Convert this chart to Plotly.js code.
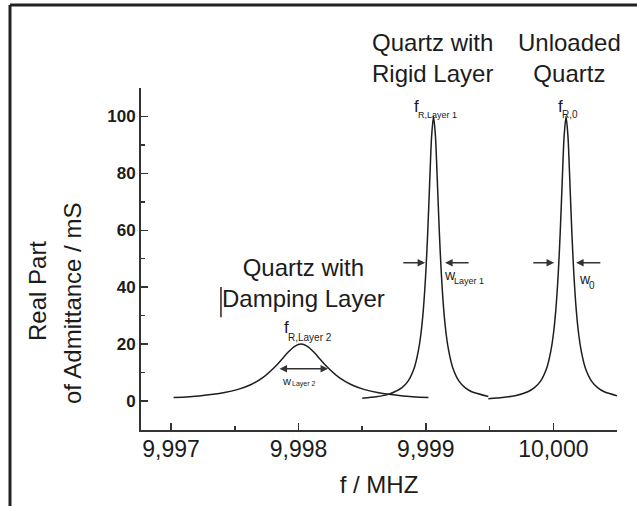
<!DOCTYPE html>
<html>
<head>
<meta charset="utf-8">
<script src="https://cdn.plot.ly/plotly-3.0.1.min.js"></script>
<style>
html,body{margin:0;padding:0;background:#fff;}
#chart{width:637px;height:506px;}
</style>
</head>
<body>
<div id="chart"></div>
<script>
// Quartz with damping layer (broad resonance)
const fDamping = [9.99702, 9.99722, 9.99742, 9.99752, 9.99762, 9.99772, 9.99782, 9.99787, 9.99792, 9.99797, 9.99802,
                  9.99807, 9.99812, 9.99817, 9.99822, 9.99832, 9.99842, 9.99852, 9.99862, 9.99882, 9.99902];
const gDamping = [1.18, 1.78, 2.96, 4.0, 5.62, 8.2, 12.2, 14.7, 17.2, 19.2, 20,
                  19.2, 17.2, 14.7, 12.2, 8.2, 5.62, 4.0, 2.96, 1.78, 1.18];

// Quartz with rigid layer
const fRigid = [9.99850, 9.99861, 9.99871, 9.99881, 9.99886, 9.99891, 9.99894, 9.99896, 9.99898, 9.99900, 9.999015, 9.99903, 9.999045, 9.99906,
                9.999075, 9.99909, 9.999105, 9.99912, 9.99914, 9.99916, 9.99918, 9.99921, 9.99926, 9.99931, 9.99936, 9.99949];
const gRigid = [0.96, 1.47, 2.41, 4.6, 7.0, 11.8, 17.4, 23.2, 32.1, 45.7, 59.9, 77.1, 93.1, 100,
                93.1, 77.1, 59.9, 45.7, 32.1, 23.2, 17.4, 11.8, 7.0, 4.6, 3.25, 1.61];

// Unloaded quartz
const fUnloaded = [9.99949, 9.99960, 9.99970, 9.99980, 9.99985, 9.99990, 9.99995, 9.99998, 10.00000, 10.00002, 10.00004, 10.000055, 10.00007, 10.000085, 10.0001,
                   10.000115, 10.00013, 10.000145, 10.00016, 10.00018, 10.0002, 10.00022, 10.00025, 10.0003, 10.00035, 10.0004, 10.0005];
const gUnloaded = [0.81, 1.2, 1.86, 3.25, 4.6, 7.0, 11.8, 17.4, 23.2, 32.1, 45.7, 59.9, 77.1, 93.1, 100,
                   93.1, 77.1, 59.9, 45.7, 32.1, 23.2, 17.4, 11.8, 7.0, 4.6, 3.25, 1.86];

const xTickVals = [9.997, 9.998, 9.999, 10.000];
const xTickText = ['9,997', '9,998', '9,999', '10,000'];
const yTickVals = [0, 20, 40, 60, 80, 100];

const FONT = '"Liberation Sans", Arial, sans-serif';
const TXT = '#1c1c1c';
const LINE = '#1e1e1e';

function curve(x, y, name) {
  return {x: x, y: y, name: name, type: 'scatter', mode: 'lines',
          line: {color: LINE, width: 1.5, shape: 'spline', smoothing: 0.7},
          hoverinfo: 'skip', showlegend: false};
}

const traces = [
  curve(fDamping, gDamping, 'Quartz with Damping Layer'),
  curve(fRigid, gRigid, 'Quartz with Rigid Layer'),
  curve(fUnloaded, gUnloaded, 'Unloaded Quartz')
];

function label(text, x, y, size) {
  return {text: text, x: x, y: y, xref: 'paper', yref: 'paper',
          showarrow: false, xanchor: 'center', yanchor: 'middle',
          font: {family: FONT, size: size, color: TXT}};
}
function dlabel(text, x, y, size, anchor) {
  return {text: text, x: x, y: y, xref: 'x', yref: 'y', showarrow: false,
          xanchor: anchor || 'center', yanchor: 'middle', borderpad: 0,
          font: {family: FONT, size: size, color: TXT}};
}
function arrow(x0, x1, y, both) {
  return {x: x1, y: y, ax: x0, ay: y, xref: 'x', yref: 'y', axref: 'x', ayref: 'y',
          text: '', showarrow: true, arrowhead: 2, arrowsize: 1, arrowwidth: 1.5,
          arrowcolor: '#333', arrowside: both ? 'end+start' : 'end', standoff: 0, startstandoff: 0};
}

const annotations = [
  label('Quartz with<br>Rigid Layer', 0.6134, 1.0877, 24),
  label('Unloaded<br>Quartz', 0.901, 1.0877, 24),
  label('Quartz with<br>Damping Layer', 0.3424, 0.4298, 24),
  Object.assign(label('Real Part', -0.2185, 0.4064, 24), {textangle: -90}),
  Object.assign(label('of Admittance / mS', -0.145, 0.3713, 24), {textangle: -90}),
  // resonance frequency labels: main letter + subscript
  dlabel('f', 9.998923, 103.4, 17),
  dlabel('R,Layer 1', 9.998930, 100.6, 9, 'left'),
  dlabel('f', 10.000053, 103.4, 17),
  dlabel('R,0', 10.000060, 100.6, 10, 'left'),
  dlabel('f', 9.997903, 26.0, 17),
  dlabel('R,Layer 2', 9.997910, 22.4, 10, 'left'),
  // bandwidth labels
  dlabel('w', 9.999190, 44.3, 14),
  dlabel('Layer 1', 9.999214, 42.0, 9, 'left'),
  dlabel('w', 10.000250, 42.9, 14),
  dlabel('0', 10.000274, 40.6, 10, 'left'),
  dlabel('w', 9.997905, 6.9, 11),
  dlabel('Layer 2', 9.997940, 6.0, 7, 'left'),
  arrow(9.998811, 9.998994, 48.6),
  arrow(9.999347, 9.999151, 48.6),
  arrow(9.999831, 10.000006, 48.6),
  arrow(10.000381, 10.000179, 48.6),
  arrow(9.997840, 9.998232, 11.3, true)
];

const layout = {
  width: 637, height: 506,
  margin: {l: 141, r: 20, t: 88, b: 76},
  paper_bgcolor: '#fff', plot_bgcolor: '#fff',
  font: {family: FONT, color: TXT},
  showlegend: false,
  xaxis: {
    range: [9.996764, 10.0005], tickmode: 'array', tickvals: xTickVals, ticktext: xTickText,
    showline: true, linecolor: '#333', linewidth: 2, showgrid: false, zeroline: false,
    ticks: 'inside', ticklen: 7, tickwidth: 1.5, tickcolor: '#333',
    tickfont: {family: FONT, size: 23, color: TXT}, ticklabelstandoff: -3,
    minor: {tickmode: 'linear', tick0: 9.9965, dtick: 0.0005, ticks: 'inside', ticklen: 4, tickwidth: 1.5, tickcolor: '#333', showgrid: false},
    title: {text: 'f / MHZ', font: {family: FONT, size: 24, color: TXT}, standoff: 16},
    fixedrange: true
  },
  yaxis: {
    range: [-10.2, 110], tickmode: 'array', tickvals: yTickVals,
    showline: true, linecolor: '#333', linewidth: 2, showgrid: false, zeroline: false,
    ticks: 'inside', ticklen: 7, tickwidth: 1.5, tickcolor: '#333',
    tickfont: {family: FONT, size: 17, color: TXT, weight: 'bold'},
    minor: {tickmode: 'linear', tick0: -10, dtick: 10, ticks: 'inside', ticklen: 4, tickwidth: 1.5, tickcolor: '#333', showgrid: false},
    fixedrange: true
  },
  annotations: annotations,
  shapes: [
    {type: 'line', xref: 'paper', yref: 'paper', x0: -0.2752, x1: -0.2752, y0: -0.23, y1: 1.2427, line: {color: '#222', width: 3}},
    {type: 'line', xref: 'paper', yref: 'paper', x0: -0.2752, x1: 1.05, y0: 1.2427, y1: 1.2427, line: {color: '#222', width: 3}},
    {type: 'line', xref: 'paper', yref: 'paper', x0: 0.168, x1: 0.168, y0: 0.330, y1: 0.418, line: {color: '#3a1a1a', width: 1.5}}
  ]
};

Plotly.newPlot('chart', traces, layout, {displayModeBar: false, staticPlot: true});
</script>
</body>
</html>
